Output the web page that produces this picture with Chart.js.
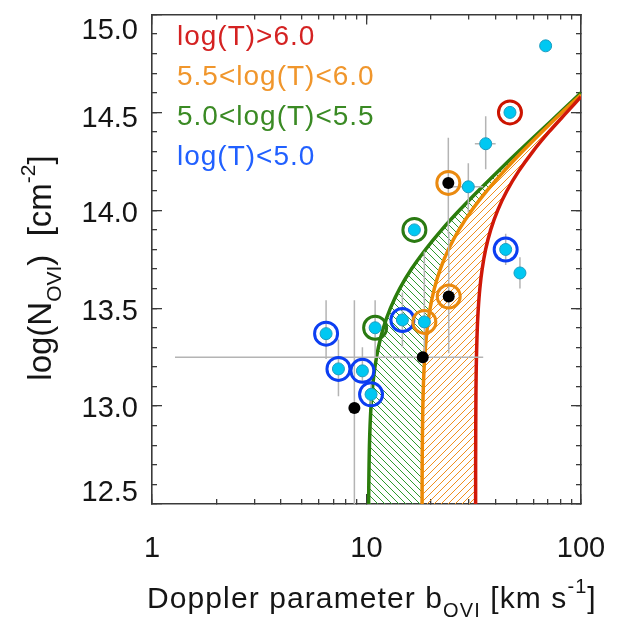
<!DOCTYPE html>
<html>
<head>
<meta charset="utf-8">
<script src="https://cdn.jsdelivr.net/npm/chart.js@4.4.1/dist/chart.umd.min.js"></script>
<style>
  html, body { margin: 0; padding: 0; background: #fff; }
  #wrap { width: 619px; height: 617px; }
</style>
</head>
<body>
<div id="wrap"><canvas id="chart" width="619" height="617"></canvas></div>
<script>
// model curves, log N(OVI) against b, for log T = 5.0 / 5.5 / 6.0
const n50 = [12.4, 12.5, 12.6, 12.7, 12.8, 12.9, 13.0, 13.1, 13.2, 13.3, 13.4, 13.5, 13.6, 13.7, 13.8, 13.9, 14.0, 14.1, 14.2, 14.3, 14.4, 14.5, 14.60];
const b50 = [10.22, 10.23, 10.25, 10.28, 10.32, 10.39, 10.50, 10.68, 10.95, 11.36, 11.99, 12.93, 14.28, 16.20, 18.85, 22.41, 27.11, 33.23, 41.10, 51.15, 63.91, 80.09, 100];
const n55 = [12.4, 12.5, 12.6, 12.7, 12.8, 12.9, 13.0, 13.1, 13.2, 13.3, 13.4, 13.5, 13.6, 13.7, 13.8, 13.9, 14.0, 14.1, 14.2, 14.3, 14.4, 14.5, 14.59];
const b55 = [18.15, 18.16, 18.17, 18.18, 18.21, 18.25, 18.31, 18.41, 18.57, 18.82, 19.21, 19.80, 20.71, 22.08, 24.09, 26.97, 30.98, 36.46, 43.75, 53.30, 65.65, 81.48, 100];
const n60 = [12.4, 12.5, 12.6, 12.7, 12.8, 12.9, 13.0, 13.1, 13.2, 13.3, 13.4, 13.5, 13.6, 13.7, 13.8, 13.9, 14.0, 14.1, 14.2, 14.3, 14.4, 14.5, 14.58];
const b60 = [32.26, 32.26, 32.27, 32.27, 32.29, 32.31, 32.35, 32.40, 32.49, 32.64, 32.86, 33.21, 33.76, 34.62, 35.93, 37.92, 40.88, 45.17, 51.24, 59.60, 70.86, 85.73, 100];

// absorbers
const cyanB = [6.48, 7.40, 9.57, 10.50, 10.97, 14.70, 18.61, 16.72, 29.83, 35.95, 46.65, 68.42, 44.55, 51.93];
const cyanN = [13.37, 13.19, 13.18, 13.06, 13.40, 13.44, 13.43, 13.90, 14.12, 14.34, 14.50, 14.84, 13.80, 13.68];
const blackB = [8.78, 18.29, 24.17, 24.07];
const blackN = [12.99, 13.25, 13.56, 14.14];

// temperature class rings
const redRingB = [46.65];
const redRingN = [14.50];
const orangeRingB = [18.61, 24.17, 24.07];
const orangeRingN = [13.43, 13.56, 14.14];
const greenRingB = [10.97, 16.72];
const greenRingN = [13.40, 13.90];
const blueRingB = [6.48, 7.40, 9.57, 10.50, 14.70, 44.55];
const blueRingN = [13.37, 13.19, 13.18, 13.06, 13.44, 13.80];

// error bars
const vErrB  = [6.48, 7.40, 9.57, 10.50, 10.97, 14.70, 18.61, 8.78, 24.17, 24.07, 29.83, 35.95, 44.55, 51.93];
const vErrLo = [13.24, 13.05, 13.12, 13.00, 13.25, 13.30, 13.25, 12.40, 13.27, 13.88, 13.99, 14.21, 13.72, 13.60];
const vErrHi = [13.54, 13.34, 13.30, 13.11, 13.54, 13.58, 13.79, 13.54, 13.89, 14.37, 14.24, 14.48, 13.88, 13.76];
const hErrN  = [13.25, 14.12, 14.34];
const hErrLo = [1.28, 25.0, 32.0];
const hErrHi = [35.0, 35.0, 40.0];

const xMajorTicks = [1, 10, 100];
const xTickLabels = ['1', '10', '100'];
const yTickLabels = ['12.5', '13.0', '13.5', '14.0', '14.5', '15.0'];
const yLabelAt = [12.555, 12.985, 13.48, 13.982, 14.467, 14.917];

const legendLabels = ['log(T)>6.0', '5.5<log(T)<6.0', '5.0<log(T)<5.5', 'log(T)<5.0'];
const legendColors = ['#d42222', '#f0962c', '#3a8a24', '#2160ff'];

const xTitleParts = [{t: 'Doppler parameter b'}, {t: 'OVI', sub: true}, {t: ' [km s'}, {t: '-1', sup: true}, {t: ']'}];
const yTitleParts = [{t: 'log(N'}, {t: 'OVI', sub: true}, {t: ')  [cm'}, {t: '-2', sup: true}, {t: ']'}];

const xMinorTicks = [];
for (let d = 1; d < 100; d *= 10) for (let k = 1; k <= 9; k++) xMinorTicks.push(k * d);
xMinorTicks.push(100);

function pts(xs, ys) { return xs.map((x, i) => ({x: x, y: ys[i]})); }

function hatch(color, forward) {
  const p = 7;
  const c = document.createElement('canvas');
  c.width = p; c.height = p;
  const g = c.getContext('2d');
  g.strokeStyle = color;
  g.lineWidth = 1;
  for (let k = -1; k <= 1; k++) {
    g.beginPath();
    if (forward) { g.moveTo(k * p, p); g.lineTo(k * p + p, 0); }
    else { g.moveTo(k * p, 0); g.lineTo(k * p + p, p); }
    g.stroke();
  }
  return g.createPattern(c, 'repeat');
}

const ctx = document.getElementById('chart').getContext('2d');
const datasets = [];

// hatched bands between the curves
datasets.push({
  data: pts(b50, n50).concat(pts(b55, n55).reverse()),
  showLine: true, fill: 'shape', borderWidth: 0, pointRadius: 0, tension: 0.3,
  backgroundColor: hatch('#2f9a2f', false), order: 50
});
datasets.push({
  data: pts(b55, n55).concat(pts(b60, n60).reverse()),
  showLine: true, fill: 'shape', borderWidth: 0, pointRadius: 0, tension: 0.3,
  backgroundColor: hatch('#f0901e', true), order: 50
});

// curves
[[b60, n60, '#d01808'], [b55, n55, '#ec8a06'], [b50, n50, '#2b7d0c']].forEach(c => {
  datasets.push({
    data: pts(c[0], c[1]), showLine: true, borderColor: c[2], borderWidth: 3.5,
    pointRadius: 0, tension: 0.3, fill: false, order: 40
  });
});

// error bars
vErrB.forEach((b, i) => {
  datasets.push({
    data: [{x: b, y: vErrLo[i]}, {x: b, y: vErrHi[i]}], showLine: true,
    borderColor: '#b4b4b4', borderWidth: 1.5, pointRadius: 0, order: 30
  });
});
hErrN.forEach((n, i) => {
  datasets.push({
    data: [{x: hErrLo[i], y: n}, {x: hErrHi[i], y: n}], showLine: true,
    borderColor: '#b4b4b4', borderWidth: 1.5, pointRadius: 0, order: 30
  });
});

// rings
[[redRingB, redRingN, '#cc1400'], [orangeRingB, orangeRingN, '#ea8a10'],
 [greenRingB, greenRingN, '#2a7a12'], [blueRingB, blueRingN, '#0c3ef2']].forEach(r => {
  datasets.push({
    data: pts(r[0], r[1]), pointRadius: 11.5, borderWidth: 3, borderColor: r[2],
    backgroundColor: 'rgba(0,0,0,0)', order: 20
  });
});

// dots
datasets.push({
  data: pts(cyanB, cyanN), pointRadius: 6, borderWidth: 1,
  borderColor: '#1b9cc0', backgroundColor: '#00c8f2', order: 10
});
datasets.push({
  data: pts(blackB, blackN), pointRadius: 6, borderWidth: 0,
  backgroundColor: '#000000', order: 10
});

const frameColor = '#3a3a3a';
const tickFont = {family: 'Liberation Sans', size: 29};

function flat(scale) {
  if (scale.isHorizontal()) scale.height = 0; else scale.width = 0;
  scale.paddingLeft = scale.paddingRight = scale.paddingTop = scale.paddingBottom = 0;
}

function tickAxis(position, weight, len, tickList, border) {
  const horiz = position === 'top' || position === 'bottom';
  return {
    type: horiz ? 'logarithmic' : 'linear',
    axis: horiz ? 'x' : 'y',
    position: position, weight: weight,
    min: horiz ? 1 : 12.5, max: horiz ? 100 : 15,
    grid: {drawOnChartArea: false, drawTicks: true, tickLength: -len, color: frameColor, lineWidth: 1.3},
    border: {display: border, color: frameColor, width: 1.6},
    ticks: {display: false, autoSkip: false, stepSize: horiz ? undefined : tickList, maxTicksLimit: 100},
    afterBuildTicks: horiz ? (s => { s.ticks = tickList.map(v => ({value: v})); }) : undefined,
    afterFit: flat
  };
}

const titlePlugin = {
  id: 'titles',
  afterDraw(chart) {
    const c = chart.ctx;
    c.save();
    c.textBaseline = 'alphabetic';
    c.fillStyle = '#151515';
    c.letterSpacing = '1.1px';
    drawRich(c, xTitleParts, 147, 608, 30);
    c.letterSpacing = '0px';
    c.translate(51, 268);
    c.rotate(-Math.PI / 2);
    const w = richWidth(c, yTitleParts, 33);
    drawRich(c, yTitleParts, -w / 2, 0, 33);
    c.restore();

    c.save();
    c.font = '28px "Liberation Sans"';
    c.letterSpacing = '1px';
    legendLabels.forEach((t, i) => {
      c.fillStyle = legendColors[i];
      c.fillText(t, 177, 45 + 40 * i);
    });
    c.restore();
  }
};

function partFont(p, size) {
  return ((p.sub || p.sup) ? Math.round(size * 0.65) : size) + 'px "Liberation Sans"';
}
function richWidth(c, parts, size) {
  let w = 0;
  parts.forEach(p => { c.font = partFont(p, size); w += c.measureText(p.t).width; });
  return w;
}
function drawRich(c, parts, x, y, size) {
  parts.forEach(p => {
    c.font = partFont(p, size);
    const dy = p.sub ? size * 0.3 : (p.sup ? -size * 0.5 : 0);
    c.fillText(p.t, x, y + dy);
    x += c.measureText(p.t).width;
  });
}

new Chart(ctx, {
  type: 'scatter',
  data: {datasets: datasets},
  options: {
    responsive: false,
    animation: false,
    layout: {padding: {left: 0, right: 38, top: 6, bottom: 0}},
    plugins: {legend: {display: false}, tooltip: {enabled: false}},
    scales: {
      x: {
        type: 'logarithmic', position: 'bottom', weight: 1, min: 1, max: 100,
        grid: {drawOnChartArea: false, drawTicks: true, tickLength: -10, color: frameColor, lineWidth: 1.3},
        border: {display: false},
        ticks: {
          autoSkip: false, maxRotation: 0, padding: 38, color: '#151515', font: tickFont,
          callback: v => xTickLabels[xMajorTicks.indexOf(v)]
        },
        afterBuildTicks: s => { s.ticks = xMajorTicks.map(v => ({value: v})); },
        afterFit: s => { s.height = 113; s.paddingLeft = s.paddingRight = s.paddingTop = s.paddingBottom = 0; }
      },
      xMinor: tickAxis('bottom', 0, 5, xMinorTicks, true),
      xTop: tickAxis('top', 0, 5, xMinorTicks, true),
      xTopMajor: tickAxis('top', 1, 10, xMajorTicks, false),
      y: {
        type: 'linear', position: 'left', weight: 2, min: 12.5, max: 15,
        grid: {display: false, drawTicks: false},
        border: {display: false},
        ticks: {
          autoSkip: false, padding: 14, color: '#151515', font: tickFont,
          callback: (v, i) => yTickLabels[i]
        },
        afterBuildTicks: s => { s.ticks = yLabelAt.map(v => ({value: v})); },
        afterFit: s => { s.width = 152; s.paddingLeft = s.paddingRight = s.paddingTop = s.paddingBottom = 0; }
      },
      yMajor: tickAxis('left', 1, 10, 0.5, false),
      yMinor: tickAxis('left', 0, 5, 0.1, true),
      yRight: tickAxis('right', 0, 5, 0.1, true),
      yRightMajor: tickAxis('right', 1, 10, 0.5, false)
    }
  },
  plugins: [titlePlugin]
});
</script>
</body>
</html>
